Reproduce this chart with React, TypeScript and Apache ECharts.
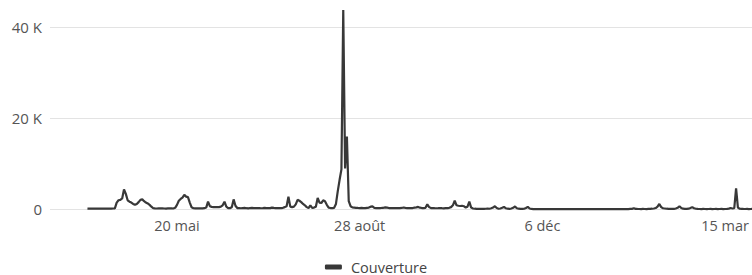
import React, { useEffect, useRef } from "react";
import * as echarts from "echarts";

// Daily series start (1 April 2023), one value per day
const START_DATE = [2023, 3, 1];

const COVERAGE: number[] = [
  // d0-9
  180, 170, 190, 160, 200, 180, 170, 190, 200, 180,
  // d10-19
  170, 160, 190, 180, 200, 210, 1500, 2000, 2100, 2400,
  // d20-29
  4400, 3400, 2000, 1700, 1500, 1200, 1000, 1200, 1600, 2100,
  // d30-39
  2200, 1800, 1500, 1300, 1000, 600, 250, 220, 200, 240,
  // d40-49
  210, 230, 200, 190, 220, 210, 230, 200, 350, 1000,
  // d50-59
  1900, 2300, 2600, 3200, 2800, 2700, 1500, 450, 250, 230,
  // d60-69
  220, 250, 240, 220, 260, 400, 1700, 700, 550, 500,
  // d70-79
  520, 480, 500, 600, 900, 1700, 600, 300, 280, 450,
  // d80-89
  2200, 800, 300, 280, 250, 300, 320, 260, 240, 300,
  // d90-99
  350, 280, 260, 310, 290, 250, 270, 330, 300, 260,
  // d100-109
  280, 400, 320, 270, 300, 260, 280, 350, 500, 700,
  // d110-119
  2800, 600, 500, 600, 1100, 2100, 1900, 1600, 1200, 900,
  // d120-129
  500, 300, 900, 350, 400, 600, 2500, 1500, 1400, 2000,
  // d130-139
  1800, 1000, 400, 300, 280, 350, 1200, 4000, 6500, 8800,
  // d140-149
  43800, 9000, 16000, 1800, 700, 450, 400, 350, 320, 300,
  // d150-159
  330, 300, 280, 350, 400, 600, 650, 350, 300, 280,
  // d160-169
  300, 320, 350, 450, 380, 300, 280, 300, 260, 270,
  // d170-179
  290, 300, 320, 420, 330, 280, 260, 270, 300, 380,
  // d180-189
  450, 550, 380, 300, 280, 350, 1100, 500, 300, 280,
  // d190-199
  260, 250, 270, 300, 260, 240, 280, 300, 350, 500,
  // d200-209
  900, 1900, 900, 800, 750, 800, 700, 400, 600, 1700,
  // d210-219
  400, 200, 150, 120, 100, 130, 120, 100, 150, 200,
  // d220-229
  150, 250, 400, 700, 300, 150, 200, 350, 550, 250,
  // d230-239
  150, 120, 200, 350, 650, 250, 150, 120, 100, 150,
  // d240-249
  300, 550, 200, 100, 80, 60, 70, 60, 50, 60,
  // d250-259
  60, 50, 60, 50, 60, 50, 60, 50, 60, 50,
  // d260-269
  50, 60, 50, 60, 50, 60, 50, 60, 50, 60,
  // d270-279
  50, 60, 50, 60, 50, 60, 50, 60, 50, 60,
  // d280-289
  50, 60, 50, 60, 50, 60, 50, 60, 50, 60,
  // d290-299
  50, 60, 50, 60, 50, 60, 80, 100, 120, 250,
  // d300-309
  120, 100, 90, 80, 100, 90, 80, 100, 120, 150,
  // d310-319
  200, 300, 600, 1200, 500, 250, 200, 150, 120, 100,
  // d320-329
  110, 120, 200, 350, 700, 300, 150, 120, 110, 150,
  // d330-339
  300, 500, 250, 150, 100, 90, 80, 100, 90, 80,
  // d340-349
  90, 100, 80, 90, 100, 80, 90, 100, 80, 90,
  // d350-359
  120, 180, 300, 200, 250, 4600, 400, 150, 120, 100,
  // d360-365
  90, 100, 80, 90, 100, 90,
];

const SERIES_NAME = "Couverture";

// x-axis tick labels
const TICK_DATES: number[][] = [
  [2023, 4, 20],
  [2023, 7, 28],
  [2023, 11, 6],
  [2024, 2, 15],
];
const TICK_LABELS = ["20 mai", "28 août", "6 déc", "15 mar"];

// y-axis ticks
const Y_TICKS = [0, 20000, 40000];
const Y_LABELS = ["0", "20 K", "40 K"];

const DAY = 86400000;
const FONT = "'Open Sans', sans-serif";

export default function App() {
  const ref = useRef<HTMLDivElement>(null);

  useEffect(() => {
    if (!ref.current) return;
    const chart = echarts.init(ref.current, undefined, { renderer: "svg" });
    const start = new Date(START_DATE[0], START_DATE[1], START_DATE[2]).getTime();
    // x = day index since START_DATE
    const data = COVERAGE.map((v, i) => [i, v]);
    const tickValues = TICK_DATES.map((t) =>
      Math.round((new Date(t[0], t[1], t[2]).getTime() - start) / DAY)
    );

    chart.setOption({
      animation: false,
      textStyle: { fontFamily: FONT },
      grid: { left: 50, right: 0, top: 27.3, bottom: 65.6, containLabel: false },
      legend: {
        show: true,
        top: 259,
        left: "center",
        padding: 0,
        icon: "roundRect",
        itemWidth: 17,
        itemHeight: 5,
        itemGap: 10,
        textStyle: {
          fontSize: 14.5,
          lineHeight: 16,
          color: "#444",
          fontFamily: FONT,
          padding: [0, 0, 0, 4],
        },
        data: [SERIES_NAME],
      },
      xAxis: {
        type: "value",
        min: -20.5,
        max: 363.7,
        axisLine: { show: false },
        axisTick: { show: false },
        splitLine: { show: false },
        axisLabel: {
          customValues: tickValues,
          formatter: (v: number) => {
            const i = tickValues.indexOf(Math.round(v));
            return i >= 0 ? TICK_LABELS[i] : "";
          },
          color: "#555",
          fontSize: 14.5,
          margin: 9,
          fontFamily: FONT,
          hideOverlap: false,
        },
      },
      yAxis: {
        type: "value",
        min: Y_TICKS[0],
        max: Y_TICKS[Y_TICKS.length - 1],
        interval: Y_TICKS[1] - Y_TICKS[0],
        axisLine: { show: false },
        axisTick: { show: false },
        splitLine: { show: true, lineStyle: { color: "#e3e3e3", width: 1 } },
        axisLabel: {
          formatter: (v: number) => {
            const i = Y_TICKS.indexOf(v);
            return i >= 0 ? Y_LABELS[i] : "";
          },
          color: "#555",
          fontSize: 15,
          margin: 8,
          fontFamily: FONT,
        },
      },
      series: [
        {
          name: SERIES_NAME,
          type: "line",
          data,
          showSymbol: false,
          symbol: "none",
          clip: false,
          color: "#383838",
          lineStyle: { width: 2.2, color: "#383838" },
        },
      ],
    });

    return () => chart.dispose();
  }, []);

  return (
    <div
      ref={ref}
      style={{ position: "absolute", left: 0, top: 0, width: 752, height: 275 }}
    />
  );
}
